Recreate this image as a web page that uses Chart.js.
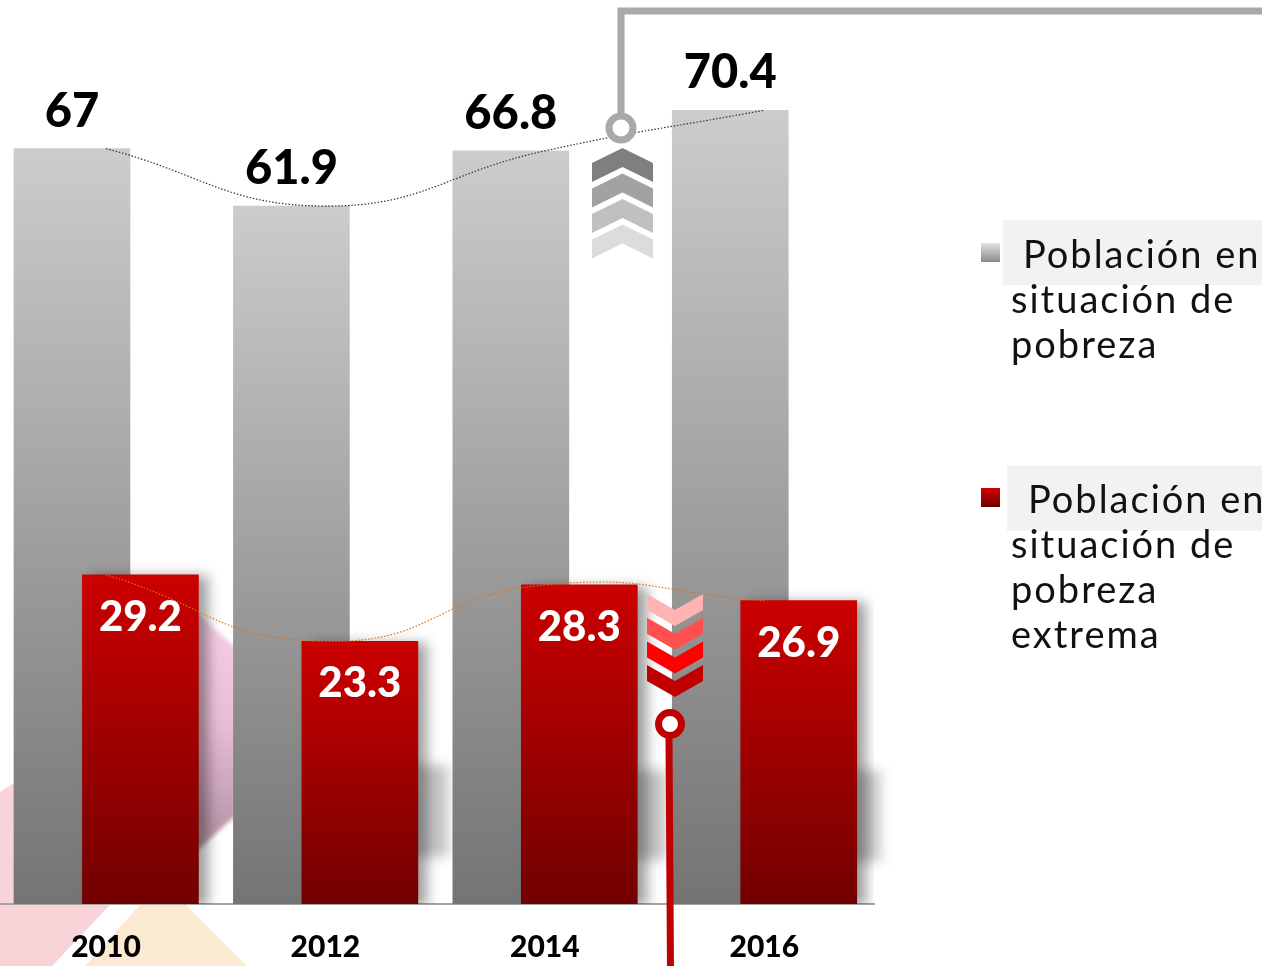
<!DOCTYPE html>
<html>
<head>
<meta charset="utf-8">
<script src="https://cdn.jsdelivr.net/npm/chart.js"></script>
<style>
html, body { margin: 0; padding: 0; background: #fff; overflow: hidden; }
#wrap { position: relative; width: 1262px; height: 966px; overflow: hidden; font-family: Lato, sans-serif; }
#chart { position: absolute; left: 0; top: 0; }
.sw { position: absolute; width: 19px; height: 19px; }
.box { position: absolute; background: #f2f2f2; width: 300px; height: 65px; }
.txt { position: absolute; font-size: 38px; line-height: 45px; letter-spacing: 2px; color: #111; white-space: nowrap; }
</style>
</head>
<body>
<div id="wrap">
  <canvas id="chart" width="1262" height="966"></canvas>

  <div class="box" style="left:1003px; top:220px;"></div>
  <div class="sw" style="left:981px; top:243px; background:linear-gradient(#e2e2e2,#8a8a8a);"></div>
  <div class="txt" style="left:1011px; top:231px;">
    <div style="padding-left:12px">Población en</div>
    <div>situación de</div>
    <div>pobreza</div>
  </div>

  <div class="box" style="left:1007px; top:466px;"></div>
  <div class="sw" style="left:981px; top:488px; background:linear-gradient(#d40000,#6e0000);"></div>
  <div class="txt" style="left:1011px; top:476px;">
    <div style="padding-left:17px">Población en</div>
    <div>situación de</div>
    <div>pobreza</div>
    <div>extrema</div>
  </div>
</div>

<script>
// datos
var years = ['2010', '2012', '2014', '2016'];
var pobreza = [67, 61.9, 66.8, 70.4];
var pobrezaExtrema = [29.2, 23.3, 28.3, 26.9];

Chart.defaults.font.family = 'Lato, sans-serif';

function barGradient(top, bottom) {
	return function(context) {
		var chart = context.chart;
		if (!chart.chartArea || !context.raw) return top;
		var y = chart.scales.y;
		var g = chart.ctx.createLinearGradient(0, y.getPixelForValue(context.raw.y), 0, y.getPixelForValue(0));
		g.addColorStop(0, top);
		g.addColorStop(1, bottom);
		return g;
	};
}

// fondo decorativo
var backdrop = {
	id: 'backdrop',
	beforeDraw: function(chart) {
		var ctx = chart.ctx;
		function poly(pts, fill) {
			ctx.beginPath();
			ctx.moveTo(pts[0][0], pts[0][1]);
			for (var i = 1; i < pts.length; i++) ctx.lineTo(pts[i][0], pts[i][1]);
			ctx.closePath();
			ctx.fillStyle = fill;
			ctx.fill();
		}
		ctx.save();
		poly([[0, 792], [22, 778], [130, 778], [130, 880], [110, 905], [52, 966], [0, 966]], '#f8d4d8');
		poly([[140, 905], [186, 905], [247, 966], [85, 966]], '#fce9d2');
		var g = ctx.createLinearGradient(0, 630, 0, 820);
		g.addColorStop(0, '#f4cde3');
		g.addColorStop(0.5, '#e7bdd4');
		g.addColorStop(1, '#bd9aae');
		ctx.filter = 'blur(2px)';
		poly([[196, 612], [236, 648], [236, 815], [196, 852]], g);
		ctx.filter = 'blur(6px)';
		ctx.fillStyle = '#c4c4c4';
		ctx.fillRect(412, 765, 36, 92);
		ctx.fillRect(632, 770, 34, 90);
		ctx.fillRect(850, 770, 30, 92);
		ctx.restore();
	}
};

// sombra de las barras rojas
var barShadow = {
	id: 'barShadow',
	beforeDatasetDraw: function(chart, args) {
		if (args.index !== 1) return;
		var ctx = chart.ctx;
		ctx.save();
		ctx.shadowColor = 'rgba(0,0,0,0.38)';
		ctx.shadowBlur = 12;
		ctx.shadowOffsetX = 9;
		ctx.shadowOffsetY = 2;
	},
	afterDatasetDraw: function(chart, args) {
		if (args.index === 1) chart.ctx.restore();
	}
};

function chevron(ctx, cx, y, w, depth, h, up, color) {
	var l = cx - w / 2, r = cx + w / 2;
	ctx.beginPath();
	if (up) {
		ctx.moveTo(l, y + depth); ctx.lineTo(cx, y); ctx.lineTo(r, y + depth);
		ctx.lineTo(r, y + depth + h); ctx.lineTo(cx, y + h); ctx.lineTo(l, y + depth + h);
	} else {
		ctx.moveTo(l, y); ctx.lineTo(cx, y + depth); ctx.lineTo(r, y);
		ctx.lineTo(r, y + h); ctx.lineTo(cx, y + depth + h); ctx.lineTo(l, y + h);
	}
	ctx.closePath();
	ctx.fillStyle = color;
	ctx.fill();
}

// etiquetas y adornos
var labelsAndMarks = {
	id: 'labelsAndMarks',
	afterDatasetsDraw: function(chart) {
		var ctx = chart.ctx;
		ctx.save();
		ctx.textAlign = 'center';
		ctx.textBaseline = 'alphabetic';

		ctx.fillStyle = '#000';
		ctx.font = '900 47px Lato, sans-serif';
		chart.getDatasetMeta(0).data.forEach(function(bar, i) {
			ctx.fillText(String(pobreza[i]), bar.x, bar.y - 22);
		});
		ctx.fillStyle = '#fff';
		ctx.font = '900 42px Lato, sans-serif';
		chart.getDatasetMeta(1).data.forEach(function(bar, i) {
			ctx.fillText(String(pobrezaExtrema[i]), bar.x, bar.y + 56);
		});

		// conector gris
		ctx.strokeStyle = '#aba8a7';
		ctx.lineWidth = 7;
		ctx.beginPath();
		ctx.moveTo(621, 114);
		ctx.lineTo(621, 11);
		ctx.lineTo(1270, 11);
		ctx.stroke();
		ctx.beginPath();
		ctx.arc(621, 128, 12, 0, Math.PI * 2);
		ctx.fillStyle = '#fff';
		ctx.fill();
		ctx.lineWidth = 7;
		ctx.stroke();

		var grays = ['#7f7f7f', '#a2a2a2', '#c0c0c0', '#dcdcdc'];
		grays.forEach(function(c, i) {
			chevron(ctx, 622.5, 148 + i * 25.5, 61, 15, 19, true, c);
		});

		var reds = ['#ffb3b3', '#ff5050', '#ff0000', '#c00000'];
		reds.forEach(function(c, i) {
			chevron(ctx, 675, 594 + i * 23.7, 56, 16, 16, false, c);
		});

		// conector rojo
		ctx.strokeStyle = '#c00000';
		ctx.lineWidth = 7;
		ctx.beginPath();
		ctx.moveTo(669, 738);
		ctx.lineTo(670.5, 970);
		ctx.stroke();
		ctx.beginPath();
		ctx.arc(670, 724, 11.5, 0, Math.PI * 2);
		ctx.fillStyle = '#fff';
		ctx.fill();
		ctx.lineWidth = 7;
		ctx.stroke();
		ctx.restore();
	}
};

var ctx = document.getElementById('chart');
var chart = new Chart(ctx, {
	type: 'bar',
	data: {
		datasets: [
			{
				label: 'Población en situación de pobreza',
				data: pobreza.map(function(v, i) { return {x: i - 0.155, y: v}; }),
				backgroundColor: barGradient('#cdcccb', '#757474'),
				barThickness: 116,
				grouped: false,
				order: 4
			},
			{
				label: 'Población en situación de pobreza extrema',
				data: pobrezaExtrema.map(function(v, i) { return {x: i + 0.157, y: v}; }),
				backgroundColor: barGradient('#cc0000', '#720000'),
				barThickness: 116,
				grouped: false,
				order: 3
			},
			{
				type: 'line',
				data: pobreza.map(function(v, i) { return {x: i, y: v}; }),
				borderColor: '#333',
				borderWidth: 1.2,
				borderDash: [1.5, 1.8],
				pointRadius: 0,
				tension: 0.45,
				fill: false,
				order: 1
			},
			{
				type: 'line',
				data: pobrezaExtrema.map(function(v, i) { return {x: i, y: v}; }),
				borderColor: '#e0701a',
				borderWidth: 1.2,
				borderDash: [1.5, 1.8],
				pointRadius: 0,
				tension: 0.5,
				fill: false,
				order: 1
			}
		]
	},
	options: {
		responsive: false,
		animation: false,
		devicePixelRatio: 1,
		layout: { padding: { top: 2, right: 388, left: 0, bottom: 0 } },
		plugins: {
			legend: { display: false },
			tooltip: { enabled: false }
		},
		scales: {
			x: {
				type: 'linear',
				min: -0.483,
				max: 3.5,
				offset: false,
				grid: { display: false, drawTicks: false },
				border: { display: true, color: '#a3a3a3', width: 2 },
				afterBuildTicks: function(axis) {
					axis.ticks = years.map(function(y, i) { return {value: i}; });
				},
				afterFit: function(axis) { axis.height = 62; },
				ticks: {
					padding: 25,
					maxRotation: 0,
					autoSkip: false,
					color: '#000',
					font: { size: 30, weight: '900' },
					callback: function(v) { return years[v]; }
				}
			},
			y: {
				display: false,
				min: 0,
				max: 80
			}
		}
	},
	plugins: [backdrop, barShadow, labelsAndMarks]
});
</script>
</body>
</html>
